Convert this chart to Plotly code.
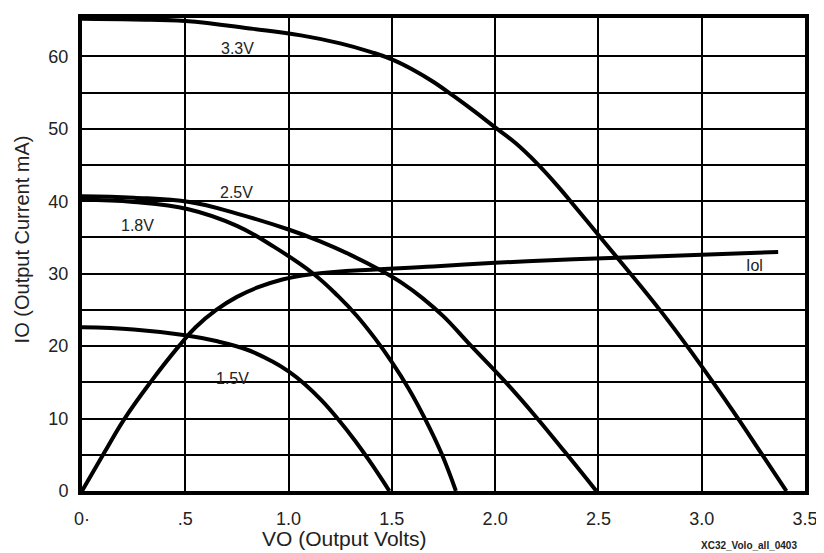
import plotly.graph_objects as go

# ---- data ----
v33_x = [0, 0.25, 0.5, 0.83, 1.06, 1.25, 1.4, 1.5, 1.6, 1.7, 1.8, 1.9, 2.0, 2.1, 2.2, 2.3, 2.4, 2.51, 2.8, 2.98, 3.15, 3.3, 3.41]
v33_y = [65.2, 65.1, 64.9, 63.8, 62.9, 61.8, 60.6, 59.6, 58.2, 56.5, 54.5, 52.4, 50.2, 48.0, 45.3, 42.2, 38.8, 35.0, 24.9, 18.0, 11.1, 4.7, 0]

v25_x = [0, 0.25, 0.52, 0.75, 1.0, 1.15, 1.3, 1.45, 1.55, 1.65, 1.75, 1.878, 2.045, 2.19, 2.34, 2.49]
v25_y = [40.7, 40.5, 39.9, 38.3, 36.1, 34.5, 32.6, 30.4, 28.7, 26.6, 24.1, 20.2, 15.2, 10.5, 5.3, 0]

v18_x = [0, 0.25, 0.515, 0.75, 0.93, 1.12, 1.24, 1.33, 1.42, 1.5, 1.58, 1.66, 1.74, 1.81]
v18_y = [40.2, 39.9, 38.9, 36.6, 33.7, 30.0, 26.9, 24.2, 21.0, 17.8, 14.2, 10.0, 5.2, 0]

v15_x = [0, 0.25, 0.5, 0.65, 0.8, 0.92, 1.0, 1.08, 1.16, 1.24, 1.32, 1.4, 1.488]
v15_y = [22.6, 22.3, 21.5, 20.7, 19.5, 17.9, 16.5, 14.7, 12.5, 9.9, 7.0, 3.8, 0]

iol_x = [0, 0.106, 0.204, 0.331, 0.469, 0.55, 0.65, 0.75, 0.85, 0.97, 1.1, 1.3, 1.7, 2.0, 2.38, 3.0, 3.37]
iol_y = [0, 5.2, 9.9, 15.0, 20.0, 22.6, 25.0, 26.8, 28.1, 29.2, 29.9, 30.4, 31.0, 31.5, 32.0, 32.6, 33.0]

x_ticks = [0, 0.5, 1.0, 1.5, 2.0, 2.5, 3.0, 3.5]
x_tick_text = ["0·", ".5", "1.0", "1.5", "2.0", "2.5", "3.0", "3.5"]
y_ticks = [0, 5, 10, 15, 20, 25, 30, 35, 40, 45, 50, 55, 60]
y_tick_text = ["0", "", "10", "", "20", "", "30", "", "40", "", "50", "", "60"]

labels = ["3.3V", "2.5V", "1.8V", "1.5V", "Iol"]
label_x = [0.753, 0.747, 0.27, 0.727, 3.255]
label_y = [61.1, 41.2, 36.7, 15.5, 31.2]

FONT = "Liberation Sans, Arial, sans-serif"

# The page body has an 8px margin: figure is sized so the plot area lands at 82..808 x 14..491
W, H = 816, 545
ML, MR, MT, MB = 74, 16, 6, 62
PW, PH = W - ML - MR, H - MT - MB


def px_paper_x(px):
    return (px - 8 - ML) / PW


def px_paper_y(py):
    return (H - MB + 8 - py) / PH


fig = go.Figure()
for xs, ys in [(v33_x, v33_y), (v25_x, v25_y), (v18_x, v18_y), (v15_x, v15_y), (iol_x, iol_y)]:
    fig.add_trace(go.Scatter(x=xs, y=ys, mode="lines",
                             line=dict(color="black", width=4, shape="spline", smoothing=1.2),
                             showlegend=False, hoverinfo="skip"))

for t, lx, ly in zip(labels, label_x, label_y):
    fig.add_annotation(x=lx, y=ly, text=t, showarrow=False,
                       font=dict(family=FONT, size=16, color="#222"))

fig.add_annotation(xref="paper", yref="paper", x=px_paper_x(346), y=px_paper_y(539),
                   text="VO (Output Volts)", showarrow=False, xanchor="center", yanchor="middle",
                   font=dict(family=FONT, size=21, color="#222"))
fig.add_annotation(xref="paper", yref="paper", x=px_paper_x(22), y=px_paper_y(237),
                   text="IO (Output Current mA)", showarrow=False, textangle=-90,
                   xanchor="center", yanchor="middle",
                   font=dict(family=FONT, size=20, color="#222"))
fig.add_annotation(xref="paper", yref="paper", x=px_paper_x(752), y=px_paper_y(546),
                   text="<b>XC32_Volo_all_0403</b>", showarrow=False, xanchor="center", yanchor="middle",
                   font=dict(family=FONT, size=10, color="#222"))

fig.update_xaxes(range=[0, 3.5], tickvals=x_ticks, ticktext=x_tick_text,
                 showgrid=True, gridcolor="black", gridwidth=2, zeroline=False,
                 showline=True, linecolor="black", linewidth=4, mirror=True,
                 ticks="", ticklabelstandoff=8,
                 tickfont=dict(family=FONT, size=18, color="#222"))
fig.update_yaxes(range=[0, 65.3], tickvals=y_ticks, ticktext=y_tick_text,
                 showgrid=True, gridcolor="black", gridwidth=2, zeroline=False,
                 showline=True, linecolor="black", linewidth=4, mirror=True,
                 ticks="", ticklabelstandoff=6,
                 tickfont=dict(family=FONT, size=18, color="#222"))

fig.update_layout(width=W, height=H, margin=dict(l=ML, r=MR, t=MT, b=MB),
                  plot_bgcolor="white", paper_bgcolor="white")

fig.write_html("out.html")
